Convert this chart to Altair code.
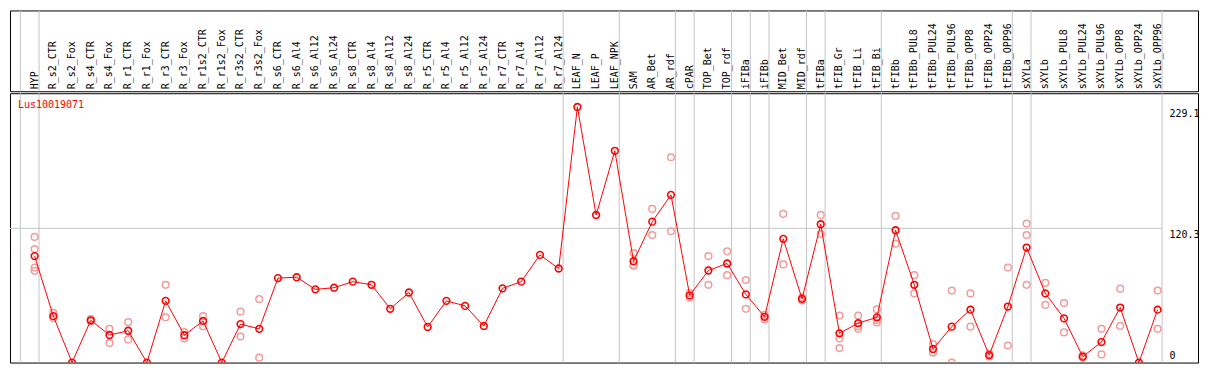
import altair as alt
import pandas as pd

gene = "Lus10019071"

names = ["HYP", "R_s2_CTR", "R_s2_Fox", "R_s4_CTR", "R_s4_Fox", "R_r1_CTR", "R_r1_Fox",
         "R_r3_CTR", "R_r3_Fox", "R_r1s2_CTR", "R_r1s2_Fox", "R_r3s2_CTR", "R_r3s2_Fox",
         "R_s6_CTR", "R_s6_Al4", "R_s6_Al12", "R_s6_Al24", "R_s8_CTR", "R_s8_Al4", "R_s8_Al12",
         "R_s8_Al24", "R_r5_CTR", "R_r5_Al4", "R_r5_Al12", "R_r5_Al24", "R_r7_CTR", "R_r7_Al4",
         "R_r7_Al12", "R_r7_Al24", "LEAF_N", "LEAF_P", "LEAF_NPK", "SAM", "AR_Bet", "AR_rdf",
         "cPAR", "TOP_Bet", "TOP_rdf", "iFIBa", "iFIBb", "MID_Bet", "MID_rdf", "tFIBa",
         "tFIB_Gr", "tFIB_Li", "tFIB_Bi", "tFIBb", "tFIBb_PUL8", "tFIBb_PUL24", "tFIBb_PUL96",
         "tFIBb_OPP8", "tFIBb_OPP24", "tFIBb_OPP96", "sXYLa", "sXYLb", "sXYLb_PUL8",
         "sXYLb_PUL24", "sXYLb_PUL96", "sXYLb_OPP8", "sXYLb_OPP24", "sXYLb_OPP96"]

means = [95.4, 41.6, 0, 37.9, 24.7, 28.5, 0, 55.3, 24.5, 37.3,
         0, 34.5, 30.2, 75.7, 76.5, 65.6, 67.1, 72.5, 69.7, 48.2,
         62.8, 31.9, 55.3, 50.8, 32.8, 66.5, 72.5, 96.5, 84.3, 229.1,
         132.3, 189.8, 90.8, 126.3, 150.3, 60.2, 82.5, 88.8, 61.1, 41.0,
         110.9, 57.1, 124.0, 26.2, 35.3, 40.5, 118.6, 69.7, 12.2, 32.2,
         47.4, 6.7, 50.2, 103.1, 62.0, 39.6, 5.3, 18.4, 49.3, 0, 47.4]

reps = [[112.6, 101.7, 85.1, 82.2], [44.5, 39.9], [], [38.9, 37.0], [30.2, 17.6],
        [36.2, 20.7], [], [69.7, 40.5], [27.3, 21.6], [41.6, 32.5],
        [], [45.6, 23.3], [56.8, 4.4], [], [], [], [], [], [], [],
        [], [], [], [], [], [], [], [], [], [],
        [], [], [98.2, 87.4, 86.8], [137.7, 114.3], [184.0, 117.7],
        [62.2, 58.2], [95.4, 69.7], [99.7, 78.3], [74.0, 48.2], [42.7, 38.7],
        [133.2, 88.0], [58.5, 55.7], [132.3, 115.2], [42.2, 21.6, 13.0], [42.2, 32.5, 30.2],
        [47.6, 35.9, 38.0], [131.4, 106.6], [78.3, 62.0], [16.5, 8.8], [64.5, 0.0],
        [62.0, 32.2], [8.0, 5.5], [85.1, 15.3], [124.6, 114.3, 69.7], [71.4, 51.7],
        [53.4, 27.0], [6.5, 4.2], [30.2, 7.3], [66.2, 32.8], [], [64.5, 30.2]]

group_after = [-1, 0, 28, 31, 34, 35, 37, 38, 39, 41, 42, 45, 52, 53, 60]
axis_labels = ["229.1", "120.3", "0"]
axis_values = [229.1, 120.3, 0.0]
grid_values = [120.3]

W, H1, H2 = 1191, 81, 270
off = 4.5 / 19
xdom = [-1.3158, 62.158]
ydom = [0, 241.4]

mean_df = pd.DataFrame({"i": list(range(len(names))), "name": names, "v": means})
rep_df = pd.DataFrame([{"i": i, "v": v} for i, vs in enumerate(reps) for v in vs])
grp_df = pd.DataFrame({"b": [g + off for g in group_after]})
grid_df = pd.DataFrame({"v": grid_values, "x0": [xdom[0]] * len(grid_values),
                        "x1": [group_after[-1] + off] * len(grid_values)})
ylab_df = pd.DataFrame({"lab": axis_labels, "v": axis_values, "lx": [60.63] * 3})
title_df = pd.DataFrame({"t": [gene]})

xs = alt.Scale(domain=xdom, nice=False, zero=False)
ys = alt.Scale(domain=ydom, nice=False, zero=False)
FONT = "DejaVu Sans Mono"
GRAY = "#c4c4c4"

# header
hdr_rules = alt.Chart(grp_df).mark_rule(color=GRAY, strokeWidth=1).encode(
    x=alt.X("b:Q", scale=xs, axis=None), y=alt.value(0), y2=alt.value(H1))
hdr_text = alt.Chart(mean_df).mark_text(angle=270, align="left", baseline="middle",
                                        font=FONT, fontSize=10, color="black").encode(
    x=alt.X("i:Q", scale=xs, axis=None), y=alt.value(H1 - 2), text="name:N")
header = alt.layer(hdr_rules, hdr_text).properties(width=W, height=H1)

# plot
X = alt.X("i:Q", scale=xs, axis=None)
Y = alt.Y("v:Q", scale=ys, axis=None)
rules = alt.Chart(grp_df).mark_rule(color=GRAY, strokeWidth=1).encode(
    x=alt.X("b:Q", scale=xs, axis=None), y=alt.value(0), y2=alt.value(H2))
grid = alt.Chart(grid_df).mark_rule(color=GRAY, strokeWidth=1).encode(
    x=alt.X("x0:Q", scale=xs, axis=None), x2="x1:Q", y=Y)
repp = alt.Chart(rep_df).mark_point(shape="circle", filled=False, color="#f29c9c",
                                    size=45, strokeWidth=1.5, opacity=1, clip=True).encode(x=X, y=Y)
line = alt.Chart(mean_df).mark_line(color="#ff0000", strokeWidth=1, clip=True).encode(x=X, y=Y)
pts = alt.Chart(mean_df).mark_point(shape="circle", filled=False, color="#ff0000",
                                    size=45, strokeWidth=1.6, opacity=1, clip=True).encode(x=X, y=Y)
title = alt.Chart(title_df).mark_text(align="left", baseline="middle", font=FONT,
                                      fontSize=10, color="#ff0000").encode(
    x=alt.value(8), y=alt.value(12), text="t:N")
ylab_top = alt.Chart(ylab_df).transform_filter("datum.v > 0").mark_text(
    align="left", baseline="top", dy=2, font=FONT, fontSize=10, color="black").encode(
    x=alt.X("lx:Q", scale=xs, axis=None), y=Y, text="lab:N")
ylab_bot = alt.Chart(ylab_df).transform_filter("datum.v <= 0").mark_text(
    align="left", baseline="bottom", dy=-2, font=FONT, fontSize=10, color="black").encode(
    x=alt.X("lx:Q", scale=xs, axis=None), y=Y, text="lab:N")

plot = alt.layer(rules, grid, repp, line, pts, title, ylab_top, ylab_bot).properties(width=W, height=H2)

chart = alt.vconcat(header, plot, spacing=0).properties(
    padding={"left": 1, "right": 1, "top": 1, "bottom": 1},
    background="white"
).configure_view(stroke="black", strokeWidth=1)

chart.save("out.html", embed_options={"renderer": "svg", "actions": False})
